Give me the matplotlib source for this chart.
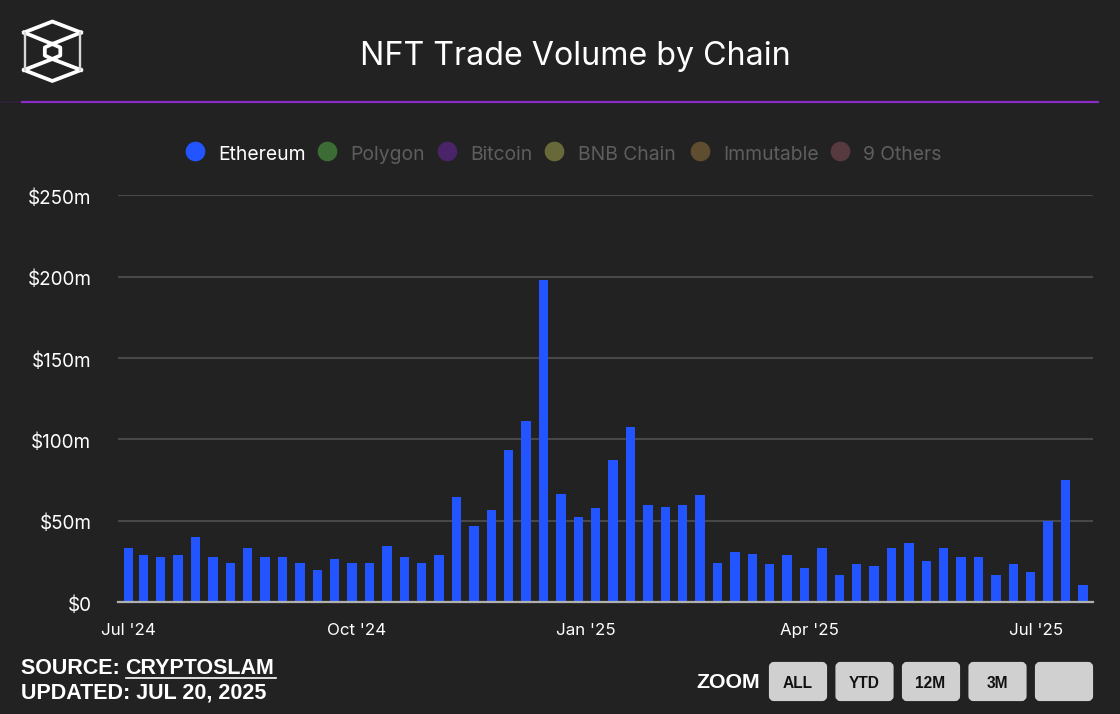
#!/usr/bin/env python3
"""NFT trade volume by chain, weekly bars on a dark background."""

import matplotlib
matplotlib.use("Agg")
import matplotlib.pyplot as plt
import matplotlib.dates as mdates
from matplotlib.patches import FancyBboxPatch
from matplotlib.transforms import ScaledTranslation
import pandas as pd

# Weekly volume in $m
volumes = [
    33, 28.7, 27.5, 28.7, 39.9, 27.5, 24.2, 33, 27.5, 27.5, 24.2, 19.6, 26.4, 24.2,
    24.2, 34.3, 27.5, 24.2, 28.7, 64.3, 46.5, 56.6, 93.4, 111, 198, 66.5, 52.3, 57.6,
    87.6, 107.9, 59.7, 58.7, 59.7, 65.5, 24.2, 30.8, 29.8, 23.1, 28.7, 20.9, 33, 16.3,
    23.1, 21.9, 33, 36.4, 25.2, 33, 27.5, 27.5, 16.3, 23.1, 18.6, 49.8, 75, 10.7,
]
first_week = "2024-06-30"
first_bar_date = "2024-07-01"  # the series starts on the 1st, then Sundays

y_ticks = [0, 50, 100, 150, 200, 250]
y_labels = ["$0", "$50m", "$100m", "$150m", "$200m", "$250m"]
x_tick_dates = ["2024-07-01", "2024-10-01", "2025-01-01", "2025-04-01", "2025-07-01"]
x_labels = ["Jul '24", "Oct '24", "Jan '25", "Apr '25", "Jul '25"]

legend_names = ["Ethereum", "Polygon", "Bitcoin", "BNB Chain", "Immutable", "9 Others"]
legend_colors = ["#2255ff", "#3d6b35", "#4a2468", "#676a38", "#5f4d2f", "#563a3f"]
legend_dot_x = [195, 327, 447, 554, 700, 840]
legend_text_x = [218.5, 350.5, 470, 577.5, 723, 863]

zoom_buttons = ["ALL", "YTD", "12M", "3M", ""]
zoom_left = [769, 835.5, 902, 968.5, 1035]

BG = "#222222"
W, H = 1120, 714

plt.rcParams["font.family"] = ["Inter", "DejaVu Sans"]

fig = plt.figure(figsize=(W / 100, H / 100), dpi=100, facecolor=BG)

# Main chart, placed by pixel
left, right, top, bottom = 118, 1093, 195.4, 602
ax = fig.add_axes([left / W, 1 - bottom / H, (right - left) / W, (bottom - top) / H])
ax.set_facecolor(BG)

dates = pd.date_range(first_week, periods=len(volumes), freq="7D")
bar_dates = [pd.Timestamp(first_bar_date)] + list(dates[1:])
ax.bar(bar_dates, volumes, width=3.74, color="#2255ff", zorder=3)

ax.set_ylim(0, 250)
ax.set_xlim(mdates.date2num(dates[0]) - 3.18, mdates.date2num(dates[-1]) + 4.06)
ax.set_yticks(y_ticks)
ax.set_yticklabels(y_labels, color="white", fontsize=13.6)
ax.set_xticks(pd.to_datetime(x_tick_dates))
ax.set_xticklabels(x_labels, color="white", fontsize=12.2)
ax.tick_params(axis="y", length=0, pad=19.2)
ax.tick_params(axis="x", length=0, pad=15.4)
shift = ScaledTranslation(0, -3.3 / 100, fig.dpi_scale_trans)
for lab in ax.get_yticklabels():
    lab.set_va("center")
    lab.set_transform(lab.get_transform() + shift)
ax.grid(axis="y", color="#484848", linewidth=1.5, zorder=1)
ax.grid(axis="x", visible=False)
for side in ["top", "left", "right"]:
    ax.spines[side].set_visible(False)
ax.spines["bottom"].set_color("#b0b0b0")
ax.spines["bottom"].set_linewidth(1.6)
ax.spines["bottom"].set_zorder(4)

# Overlay in pixel coordinates for header, legend and footer
ov = fig.add_axes([0, 0, 1, 1], zorder=5)
ov.set_xlim(0, W)
ov.set_ylim(H, 0)
ov.axis("off")

ov.text(575.5, 56, "NFT Trade Volume by Chain", color="white", fontsize=23.2,
        ha="center", va="center")

# Header rule
ov.plot([0, 21], [102, 102], color="#2e2036", linewidth=1.5, solid_capstyle="butt")
ov.plot([21, 1099], [102, 102], color="#8a2bc8", linewidth=1.6, solid_capstyle="butt")

# Logo
LOGO_LW = 2.7
ov.plot([24, 52.3, 81], [32.5, 21.5, 32.5], color="white", linewidth=LOGO_LW)
ov.plot([24, 52.3, 81], [70, 81, 70], color="white", linewidth=LOGO_LW)
ov.plot([24, 52.3, 81], [32.5, 44, 32.5], color="white", linewidth=LOGO_LW)
ov.plot([24, 52.3, 81], [70, 59, 70], color="white", linewidth=LOGO_LW)
ov.plot([25, 25], [32.5, 70], color="#d8d8d8", linewidth=1.7)
ov.plot([80, 80], [32.5, 70], color="#d8d8d8", linewidth=1.7)
ov.plot([52.3, 60.3, 60.3, 52.3, 44.8, 44.8, 52.3], [44, 47.5, 55.5, 59, 55.5, 47.5, 44],
        color="white", linewidth=LOGO_LW)

# Legend
for i, name in enumerate(legend_names):
    ov.scatter(legend_dot_x[i], 150.7, s=200, color=legend_colors[i], linewidths=0)
    ov.text(legend_text_x[i], 155, name, fontsize=13.9, va="center",
            color="white" if i == 0 else "#5e5e5e")

# Footer
foot = ["Liberation Sans", "DejaVu Sans"]
FOOT_SIZE = 15.5
ov.text(21, 668, "SOURCE: ", color="white", fontsize=FOOT_SIZE, fontweight="bold",
        family=foot, va="center")
ov.text(125.5, 668, "CRYPTOSLAM", color="white", fontsize=FOOT_SIZE, fontweight="bold",
        family=foot, va="center")
ov.plot([125.5, 276], [677.7, 677.7], color="white", linewidth=1.2)
ov.text(21, 693, "UPDATED: JUL 20, 2025", color="white", fontsize=FOOT_SIZE, fontweight="bold",
        family=foot, va="center")

# Zoom buttons
ov.text(696, 683, "ZOOM", color="white", fontsize=15.3, fontweight="bold", family=foot,
        va="center")
for x0, label in zip(zoom_left, zoom_buttons):
    ov.add_patch(FancyBboxPatch((x0 + 2, 664), 54, 35, boxstyle="round,pad=0,rounding_size=3",
                                mutation_aspect=1, facecolor="#d0d0d0", edgecolor="#d0d0d0",
                                linewidth=3))
    ov.text(x0 + 28.5, 683.5, label, color="#111111", fontsize=11.2, fontweight="bold",
            family=foot, ha="center", va="center")

fig.savefig("out.png", dpi=100, facecolor=BG)
